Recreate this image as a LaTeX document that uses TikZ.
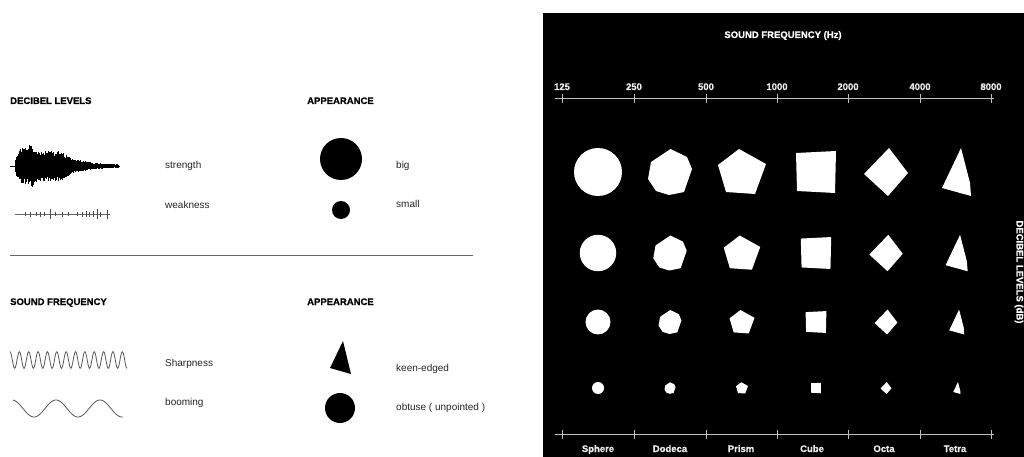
\documentclass[tikz,border=0pt]{standalone}
\usepackage{fontspec}
\setmainfont{Liberation Sans}
\newfontfamily\heavyfont{Liberation Sans}[BoldFeatures={FakeBold=0.6}]
\begin{document}
\begin{tikzpicture}[x=1pt,y=-1pt,
  head/.style={font=\fontsize{9.5}{10}\selectfont\heavyfont\bfseries, anchor=base west, inner sep=0pt},
  body/.style={font=\fontsize{10}{11}\selectfont, anchor=base west, inner sep=0pt, text=black!85},
  whead/.style={font=\fontsize{9.5}{10}\selectfont\heavyfont\bfseries, anchor=base, inner sep=0pt, text=white},
  wnum/.style={font=\fontsize{9.5}{10}\selectfont\heavyfont\bfseries, anchor=base, inner sep=0pt, text=white!92!black},
  axisline/.style={draw=black!25, line width=1pt},
  wave/.style={draw=black!65, line width=0.8pt},
  shp/.style={fill=white, draw=none}]
\useasboundingbox (0,0) rectangle (1024,457);
\fill[white] (0,0) rectangle (1024,457);

% ---------------- left panel ----------------
\node[head] (hdb) at (10,104) {DECIBEL LEVELS};
\node[head] (hap1) at (307,104) {APPEARANCE};
\node[head] (hsf) at (10,305) {SOUND FREQUENCY};
\node[head] (hap2) at (307,305) {APPEARANCE};

% strong waveform
\pgfmathsetseed{7}
\draw[black, line width=0.5pt] (10,166) -- (120,166);
\foreach \i in {0,...,206}{
  \pgfmathsetmacro{\xx}{15+\i*0.5}
  \pgfmathsetmacro{\A}{\xx<19 ? 5+(\xx-15)*2.2 : (\xx<34 ? 15 : (\xx<60 ? 13 : (\xx<72 ? 13-(\xx-60)*0.6 : (\xx<92 ? 6-(\xx-72)*0.15 : 2.6-(\xx-92)*0.04))))}
  \pgfmathsetmacro{\up}{\A*(0.75+0.45*rnd)+(abs(\xx-30)<2 ? 4 : 0)}
  \pgfmathsetmacro{\dn}{\A*(0.75+0.45*rnd)+(abs(\xx-33)<2 ? 3 : 0)}
  \draw[black, line width=0.7pt] (\xx,166-\up) -- (\xx,166+\dn);
}
% weak waveform
\draw[black!60, line width=0.5pt] (15,214) -- (110,214);
\foreach \xx/\h in {25/2,30/2.5,36/2,40/2.5,44/2,50/5,55/2,62/2.5,68/2,77/2,82/2.5,86/3,89/2.5,93/3,97/5,100/2.5,107/4.5}{
  \draw[black!70, line width=0.6pt] (\xx,214-\h) -- (\xx,214+\h);
}
\node[body] (tstr) at (165,168) {strength};
\node[body] (twk) at (165,208) {weakness};

% appearance circles
\fill[black] (341,159) circle[radius=21];
\fill[black] (341,210) circle[radius=9];
\node[body] (tbig) at (396,168) {big};
\node[body] (tsm) at (396,207) {small};

% divider
\draw[black!60, line width=1.2pt] (10,255.5) -- (473,255.5);

% frequency waves
\draw[wave] plot[domain=10:127, samples=260, smooth] (\x,{360-8.3*cos((\x-10)/9.36*360)});
\draw[wave] plot[domain=13:123, samples=120, smooth] (\x,{408.5-8.5*cos((\x-12)/44*360)});
\node[body] (tsh) at (165,366) {Sharpness};
\node[body] (tbo) at (165,405) {booming};

% appearance triangle / circle
\fill[black] (343,341) -- (330,368) -- (351,374) -- cycle;
\fill[black] (340,408) circle[radius=15];
\node[body] (tke) at (396,371) {keen-edged};
\node[body] (tob) at (396,410) {obtuse ( unpointed )};

% ---------------- right panel ----------------
\fill[black] (543,13.3) rectangle (1024,457);
\node[whead] (tfreq) at (783,38) {SOUND FREQUENCY (Hz)};

% top axis
\coordinate (ta0) at (555,99);
\coordinate (ta1) at (994,99);
\draw[axisline] (ta0) -- (ta1);
\foreach \xx/\lab [count=\k] in {562/125,634/250,706/500,777/1000,848/2000,920/4000,991/8000}{
  \draw[axisline] (\xx,94.5) -- (\xx,103.5);
  \node[wnum] (f\k) at (\xx,90) {\lab};
}
% bottom axis
\coordinate (ba0) at (555,434);
\coordinate (ba1) at (994,434);
\draw[axisline] (ba0) -- (ba1);
\foreach \xx in {562,634,706,777,848,920,991}{
  \draw[axisline] (\xx,429.5) -- (\xx,438.5);
}
\foreach \xx/\lab [count=\k] in {598/Sphere,670/Dodeca,741/Prism,812/Cube,884/Octa,955/Tetra}{
  \node[wnum] (s\k) at (\xx,452) {\lab};
}

% vertical label
\node[whead, rotate=-90] (tdb) at (1016.5,272) {DECIBEL LEVELS (dB)};

% shapes grid
\foreach \yy/\s in {172/1, 253/0.76, 322/0.52, 388/0.25}{
  \fill[shp] (598,\yy) circle[radius=24*\s];
  \begin{scope}[shift={(670,\yy)}, scale=\s]
    \fill[shp] (0.5,-23) -- (17,-15) -- (22,-3) -- (14,20) -- (-1,23) -- (-14,19) -- (-22,7) -- (-19,-10) -- cycle;
  \end{scope}
  \begin{scope}[shift={(742,\yy)}, scale=\s]
    \fill[shp] (-3,-23) -- (24,-8) -- (13,22) -- (-16,20) -- (-24,-7) -- cycle;
  \end{scope}
  \begin{scope}[shift={(816,\yy)}, scale=\s]
    \fill[shp] (-20,-19) -- (20,-21) -- (19,21) -- (-19,19) -- cycle;
  \end{scope}
  \begin{scope}[shift={(886,\yy)}, scale=\s]
    \fill[shp] (3,-24) -- (22,1) -- (2,24) -- (-22,2) -- cycle;
  \end{scope}
  \begin{scope}[shift={(957,\yy)}, scale=\s]
    \fill[shp] (4,-24) -- (13,11) -- (14,24) -- (-15,16) -- cycle;
  \end{scope}
}
\end{tikzpicture}
\end{document}
